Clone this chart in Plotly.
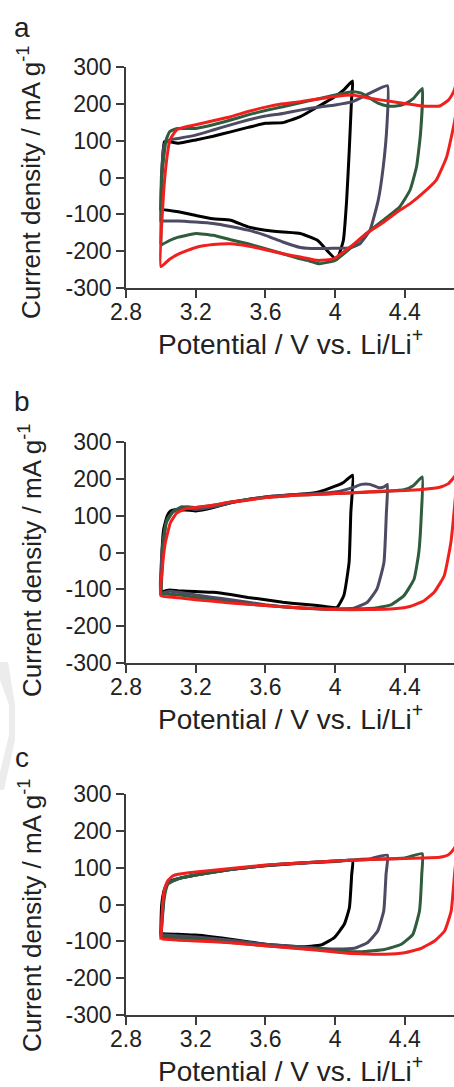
import plotly.graph_objects as go

# ---------------- data ----------------
X_TICKS = [2.8, 3.2, 3.6, 4.0, 4.4]
X_TICK_TEXT = ["2.8", "3.2", "3.6", "4", "4.4"]
Y_TICKS = [-300, -200, -100, 0, 100, 200, 300]
Y_TICK_TEXT = ["-300", "-200", "-100", "0", "100", "200", "300"]
PANEL_LABELS = ["a", "b", "c"]
SERIES_COLORS = ["#000000", "#4d4a63", "#2e5c3c", "#f0201e"]

# Panel a
A_BLACK_V = [3.0, 3.005, 3.02, 3.05, 3.1, 3.2, 3.3, 3.4, 3.5, 3.6, 3.7, 3.8, 3.9, 4.0, 4.05, 4.1,
             4.094, 4.081, 4.066, 4.047, 4.008, 3.9, 3.8, 3.7, 3.6, 3.5, 3.4, 3.3, 3.2, 3.1, 3.0, 3.0]
A_BLACK_I = [-89, 0, 97, 97, 93, 102, 112, 124, 136, 147, 149, 165, 192, 220, 238, 262,
             211, 74, -62, -171, -223, -171, -152, -148, -143, -134, -116, -112, -103, -93, -87, -89]
A_GREY_V = [3.0, 3.003, 3.02, 3.05, 3.1, 3.2, 3.3, 3.4, 3.5, 3.6, 3.7, 3.8, 3.9, 4.0, 4.1, 4.2, 4.3,
            4.297, 4.276, 4.247, 4.2, 4.142, 4.085, 4.0, 3.9, 3.8, 3.7, 3.6, 3.5, 3.4, 3.3, 3.2, 3.1, 3.0]
A_GREY_I = [-120, 0, 90, 102, 106, 115, 129, 143, 156, 167, 174, 183, 191, 197, 206, 229, 249,
            140, 29, -62, -143, -180, -191, -192, -193, -190, -175, -157, -143, -133, -125, -121, -118, -118]
A_GREEN_V = [3.0, 3.005, 3.03, 3.05, 3.08, 3.1, 3.2, 3.3, 3.4, 3.5, 3.6, 3.7, 3.8, 3.9, 4.0, 4.1, 4.15,
             4.2, 4.25, 4.3, 4.35, 4.4, 4.45, 4.5,
             4.49, 4.467, 4.43, 4.37, 4.3, 4.18, 4.085, 4.0, 3.91, 3.84, 3.8, 3.7, 3.6, 3.5, 3.4, 3.3,
             3.2, 3.1, 3.05, 3.0]
A_GREEN_I = [-182, 0, 102, 124, 131, 133, 133, 143, 156, 170, 182, 192, 203, 213, 224, 233, 229,
             215, 201, 194, 194, 200, 215, 242,
             120, 29, -34, -80, -107, -152, -193, -225, -234, -225, -221, -207, -193, -180, -169, -157,
             -152, -162, -171, -184]
A_RED_V = [3.0, 3.013, 3.033, 3.052, 3.09, 3.147, 3.2, 3.3, 3.4, 3.5, 3.6, 3.7, 3.8, 3.9, 4.0, 4.1,
           4.2, 4.3, 4.4, 4.5, 4.6, 4.65, 4.68, 4.7,
           4.69, 4.64, 4.58, 4.5, 4.43, 4.37, 4.28, 4.18, 4.085, 3.99, 3.9, 3.8, 3.7, 3.6, 3.5, 3.4,
           3.3, 3.2, 3.1, 3.05, 3.0]
A_RED_I = [-242, -62, 47, 102, 129, 138, 143, 154, 165, 179, 191, 200, 206, 213, 220, 224,
           215, 208, 201, 194, 194, 210, 233, 260,
           165, 56, -7, -44, -71, -89, -121, -152, -189, -221, -225, -216, -207, -196, -186, -180,
           -182, -190, -208, -222, -242]

# Panel b
B_BLACK_V = [3.0, 3.007, 3.016, 3.036, 3.055, 3.093, 3.2, 3.3, 3.4, 3.5, 3.6, 3.7, 3.8, 3.9, 4.0, 4.05, 4.1,
             4.09, 4.08, 4.05, 4.01, 3.9, 3.8, 3.7, 3.6, 3.5, 3.4, 3.3, 3.2, 3.1, 3.05, 3.0]
B_BLACK_I = [-110, 9, 63, 99, 113, 117, 113, 122, 135, 144, 151, 155, 158, 164, 180, 191, 210,
             108, -27, -117, -149, -144, -140, -135, -128, -122, -114, -108, -106, -104, -102, -108]
B_GREY_V = [3.0, 3.01, 3.03, 3.07, 3.12, 3.2, 3.3, 3.4, 3.5, 3.6, 3.7, 3.8, 3.9, 4.0, 4.1, 4.15, 4.2,
            4.25, 4.28, 4.3,
            4.294, 4.28, 4.24, 4.185, 4.108, 4.0, 3.9, 3.8, 3.7, 3.6, 3.5, 3.4, 3.3, 3.2, 3.1, 3.05, 3.0]
B_GREY_I = [-110, 20, 80, 110, 124, 117, 124, 135, 144, 151, 155, 158, 160, 164, 176, 185, 185,
            176, 178, 185,
            108, -27, -99, -135, -151, -153, -153, -151, -147, -142, -135, -128, -122, -115, -108, -105, -110]
B_GREEN_V = [3.0, 3.016, 3.036, 3.074, 3.15, 3.2, 3.3, 3.4, 3.5, 3.6, 3.7, 3.8, 3.9, 4.0, 4.1, 4.2, 4.3,
             4.4, 4.45, 4.5,
             4.495, 4.48, 4.453, 4.395, 4.32, 4.223, 4.1, 4.0, 3.9, 3.8, 3.6, 3.4, 3.3, 3.2, 3.1, 3.0]
B_GREEN_I = [-115, 27, 90, 113, 124, 122, 128, 137, 144, 149, 153, 156, 158, 160, 162, 164, 166,
             171, 182, 205,
             108, 0, -72, -117, -142, -151, -153, -155, -153, -151, -144, -135, -128, -122, -115, -113]
B_RED_V = [3.0, 3.008, 3.026, 3.055, 3.093, 3.15, 3.2, 3.3, 3.4, 3.5, 3.6, 3.7, 3.8, 3.9, 4.0, 4.1, 4.2,
           4.3, 4.4, 4.5, 4.6, 4.65, 4.68, 4.7,
           4.687, 4.664, 4.626, 4.568, 4.51, 4.434, 4.338, 4.185, 4.0, 3.9, 3.8, 3.6, 3.4, 3.2, 3.1, 3.0]
B_RED_I = [-117, -45, 27, 81, 108, 120, 122, 128, 137, 142, 149, 153, 156, 158, 160, 162, 165,
           167, 168, 171, 177, 187, 203, 215,
           135, 27, -63, -108, -131, -146, -153, -155, -155, -153, -150, -144, -137, -128, -123, -117]

# Panel c
C_BLACK_V = [3.0, 3.005, 3.02, 3.04, 3.08, 3.2, 3.4, 3.6, 3.8, 4.0, 4.1,
             4.095, 4.082, 4.053, 3.995, 3.919, 3.804, 3.7, 3.6, 3.5, 3.4, 3.3, 3.2, 3.1, 3.0, 3.0]
C_BLACK_I = [-75, 0, 40, 60, 68, 80, 95, 105, 112, 117, 120,
             82, -8, -53, -90, -110, -115, -112, -108, -101, -94, -88, -83, -81, -79, -75]
C_GREY_V = [3.0, 3.02, 3.04, 3.1, 3.2, 3.4, 3.6, 3.8, 4.0, 4.1, 4.2, 4.3,
            4.292, 4.279, 4.244, 4.187, 4.11, 3.995, 3.9, 3.8, 3.6, 3.4, 3.2, 3.0]
C_GREY_I = [-85, 30, 58, 70, 80, 95, 106, 113, 118, 121, 124, 134,
            82, -17, -72, -103, -119, -121, -119, -115, -108, -97, -88, -82]
C_GREEN_V = [3.0, 3.02, 3.04, 3.1, 3.2, 3.4, 3.6, 3.8, 4.0, 4.2, 4.4, 4.5,
             4.497, 4.484, 4.446, 4.379, 4.283, 4.149, 4.0, 3.9, 3.8, 3.6, 3.4, 3.2, 3.0]
C_GREEN_I = [-90, 20, 55, 70, 80, 95, 106, 113, 118, 122, 126, 138,
             82, -17, -81, -108, -122, -128, -126, -122, -119, -112, -103, -94, -88]
C_RED_V = [3.0, 3.005, 3.01, 3.02, 3.04, 3.07, 3.1, 3.2, 3.4, 3.6, 3.8, 4.0, 4.2, 4.4, 4.5, 4.6,
           4.65, 4.68, 4.7,
           4.685, 4.666, 4.628, 4.57, 4.494, 4.398, 4.283, 4.1, 4.0, 3.8, 3.6, 3.4, 3.2, 3.1, 3.0, 3.0]
C_RED_I = [-95, -50, 0, 40, 65, 78, 82, 88, 98, 107, 113, 118, 122, 125, 126, 128,
           135, 150, 165,
           82, -17, -72, -99, -119, -131, -135, -133, -129, -120, -112, -104, -99, -97, -94, -95]

PANELS = [
    [(A_BLACK_V, A_BLACK_I), (A_GREY_V, A_GREY_I), (A_GREEN_V, A_GREEN_I), (A_RED_V, A_RED_I)],
    [(B_BLACK_V, B_BLACK_I), (B_GREY_V, B_GREY_I), (B_GREEN_V, B_GREEN_I), (B_RED_V, B_RED_I)],
    [(C_BLACK_V, C_BLACK_I), (C_GREY_V, C_GREY_I), (C_GREEN_V, C_GREEN_I), (C_RED_V, C_RED_I)],
]

# ---------------- layout helpers ----------------
W, H = 454, 1087
FONT = "Liberation Sans, Arial, sans-serif"
TEXT_COLOR = "#222222"
AXIS_COLOR = "#3c3c3c"
X_LEFT_PX = 126
PLOT_TOPS = [67, 442, 794]
PLOT_H = 221
LETTER_Y = [27, 401, 757]
YTITLE_Y = [183, 561, 916]


def py(px):
    return 1 - px / H


fig = go.Figure()
layout = dict(
    width=W, height=H, margin=dict(l=0, r=0, t=0, b=0, autoexpand=False),
    paper_bgcolor="white", plot_bgcolor="white", showlegend=False,
    font=dict(family=FONT, color=TEXT_COLOR, size=23),
)
annotations = []

for p, curves in enumerate(PANELS):
    sfx = "" if p == 0 else str(p + 1)
    top = PLOT_TOPS[p]
    bottom = top + PLOT_H
    for (v, i), col in zip(curves, SERIES_COLORS):
        fig.add_trace(go.Scatter(x=v, y=i, mode="lines", xaxis="x" + sfx, yaxis="y" + sfx,
                                 line=dict(color=col, width=3, shape="spline", smoothing=0.4),
                                 hoverinfo="skip"))
    layout["xaxis" + sfx] = dict(
        domain=[X_LEFT_PX / W, 1], range=[2.8, 4.682], anchor="y" + sfx, automargin=False,
        tickvals=X_TICKS, ticktext=X_TICK_TEXT, ticks="outside", ticklen=8, tickwidth=1.5,
        tickcolor=AXIS_COLOR, showline=True, linecolor=AXIS_COLOR, linewidth=1.5,
        showgrid=False, zeroline=False, tickfont=dict(size=23, color=TEXT_COLOR, family=FONT),
        ticklabelstandoff=-5,
    )
    layout["yaxis" + sfx] = dict(
        domain=[py(bottom), py(top)], range=[-300, 300], anchor="x" + sfx, automargin=False,
        tickvals=Y_TICKS, ticktext=Y_TICK_TEXT, ticks="outside", ticklen=8, tickwidth=1.5,
        tickcolor=AXIS_COLOR, showline=True, linecolor=AXIS_COLOR, linewidth=1.5,
        showgrid=False, zeroline=False, tickfont=dict(size=23, color=TEXT_COLOR, family=FONT),
    )
    annotations.append(dict(
        text="Potential / V vs. Li/Li<sup>+</sup>", xref="paper", yref="paper",
        x=(X_LEFT_PX + W) / 2 / W, y=py(bottom + 54), xanchor="center", yanchor="middle",
        showarrow=False, font=dict(size=28, color=TEXT_COLOR, family=FONT)))
    annotations.append(dict(
        text="Current density / mA g<sup>-1</sup>", xref="paper", yref="paper",
        x=30 / W, y=py(YTITLE_Y[p]), xanchor="center", yanchor="middle", textangle=-90,
        showarrow=False, font=dict(size=26, color=TEXT_COLOR, family=FONT)))
    annotations.append(dict(
        text=PANEL_LABELS[p], xref="paper", yref="paper",
        x=22 / W, y=py(LETTER_Y[p]), xanchor="center", yanchor="middle",
        showarrow=False, font=dict(size=28, color=TEXT_COLOR, family=FONT)))

layout["annotations"] = annotations
layout["shapes"] = [dict(
    type="path", xref="paper", yref="paper", layer="below",
    path=f"M 0 {py(662)} L {8/W} {py(662)} L {15/W} {py(705)} L {15/W} {py(740)} "
         f"L {4/W} {py(790)} L 0 {py(790)} L 0 {py(772)} L {9/W} {py(735)} L {9/W} {py(705)} L 0 {py(680)} Z",
    fillcolor="#ececec", line=dict(width=0))]

fig.update_layout(**layout)
fig.write_html("out.html", config={"displayModeBar": False},
               post_script="document.body.style.margin='0px';document.body.style.overflow='hidden';")
